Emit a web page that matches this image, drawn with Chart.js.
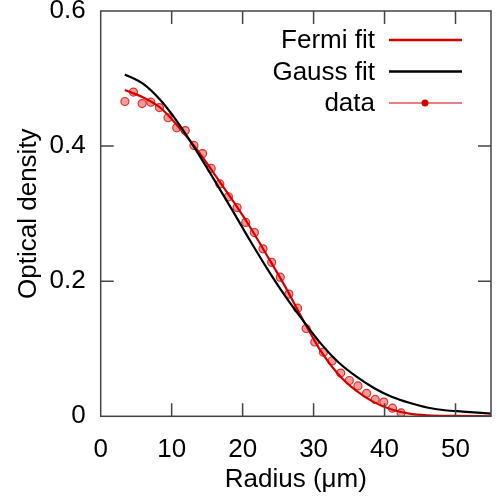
<!DOCTYPE html>
<html>
<head>
<meta charset="utf-8">
<script src="https://cdn.jsdelivr.net/npm/chart.js@4.4.1/dist/chart.umd.min.js"></script>
<style>
  html, body { margin: 0; padding: 0; background: #fff; }
  #wrap { width: 500px; height: 500px; }
</style>
</head>
<body>
<div id="wrap"><canvas id="od-chart" width="500" height="500"></canvas></div>
<script>
// measured profile (radius in um, optical density)
const dataRadius = [3.41, 4.62, 5.84, 7.06, 8.28, 9.49, 10.71, 11.92, 13.14, 14.36, 15.57,
  16.79, 18.00, 19.22, 20.44, 21.66, 22.87, 24.09, 25.30, 26.52, 27.74, 28.95, 30.17,
  31.39, 32.60, 33.82, 35.04, 36.25, 37.47, 38.68, 39.90, 41.12, 42.33]
const dataOD = [0.466, 0.480, 0.463, 0.465, 0.457, 0.442, 0.427, 0.423, 0.401, 0.389, 0.367,
  0.344, 0.325, 0.309, 0.287, 0.272, 0.248, 0.228, 0.206, 0.181, 0.160, 0.130, 0.110,
  0.095, 0.082, 0.064, 0.053, 0.045, 0.034, 0.025, 0.021, 0.012, 0.005]

// fit curves
const fermiRadius = [3.4, 6, 8.5, 11, 13.5, 16, 18.5, 21, 23.5, 26, 28.5, 31, 33.5, 36,
  38.5, 41, 43.5, 46, 50, 55]
const fermiOD = [0.483, 0.472, 0.456, 0.428, 0.396, 0.359, 0.321, 0.281, 0.237, 0.192, 0.143,
  0.097, 0.062, 0.038, 0.021, 0.010, 0.004, 0.0015, 0.0005, 0.0]

const gaussRadius = [3.4, 6, 8.5, 11, 13.5, 16, 18.5, 21, 23.5, 26, 28.5, 31, 33.5, 36,
  38.5, 41, 43.5, 46, 48.5, 51, 55]
const gaussOD = [0.506, 0.492, 0.467, 0.433, 0.393, 0.350, 0.306, 0.261, 0.218, 0.178, 0.142,
  0.108, 0.080, 0.059, 0.042, 0.029, 0.020, 0.013, 0.009, 0.007, 0.004]

const xTicks = [0, 10, 20, 30, 40, 50]
const yTicks = [0, 0.2, 0.4, 0.6]

const RED = '#d40000'
const FONT = "'Liberation Sans', Arial, sans-serif"
const FONT_SIZE = 26

const toPoints = (xs, ys) => xs.map((x, i) => ({ x, y: ys[i] }))

// frame, inward ticks and the legend
const framePlugin = {
  id: 'frame',
  afterDraw(chart) {
    const { ctx, chartArea: a, scales } = chart
    ctx.save()
    ctx.strokeStyle = '#444'
    ctx.lineWidth = 1.5
    ctx.strokeRect(a.left, a.top, a.right - a.left, a.bottom - a.top)
    ctx.beginPath()
    xTicks.slice(1).forEach(v => {
      const px = scales.x.getPixelForValue(v)
      ctx.moveTo(px, a.bottom); ctx.lineTo(px, a.bottom - 13)
      ctx.moveTo(px, a.top); ctx.lineTo(px, a.top + 13)
    })
    yTicks.slice(1, -1).forEach(v => {
      const py = scales.y.getPixelForValue(v)
      ctx.moveTo(a.left, py); ctx.lineTo(a.left + 13, py)
      ctx.moveTo(a.right, py); ctx.lineTo(a.right - 13, py)
    })
    ctx.stroke()

    const items = [
      { label: 'Fermi fit', color: RED, width: 2.5, dot: false },
      { label: 'Gauss fit', color: '#000', width: 2.5, dot: false },
      { label: 'data', color: RED, width: 1, dot: true }
    ]
    ctx.font = FONT_SIZE + 'px ' + FONT
    ctx.textAlign = 'right'
    ctx.textBaseline = 'middle'
    items.forEach((it, i) => {
      const y = a.top + 29 + i * 31.5
      ctx.fillStyle = '#000'
      ctx.fillText(it.label, a.right - 116, y + 1)
      ctx.strokeStyle = it.color
      ctx.lineWidth = it.width
      ctx.beginPath()
      ctx.moveTo(a.right - 102, y); ctx.lineTo(a.right - 29, y)
      ctx.stroke()
      if (it.dot) {
        ctx.fillStyle = it.color
        ctx.beginPath()
        ctx.arc(a.right - 66, y, 3.5, 0, Math.PI * 2)
        ctx.fill()
      }
    })
    ctx.restore()
  }
}

const ctx = document.getElementById('od-chart').getContext('2d')
new Chart(ctx, {
  type: 'scatter',
  data: {
    datasets: [
      {
        label: 'Gauss fit',
        data: toPoints(gaussRadius, gaussOD),
        showLine: true,
        borderColor: '#000',
        borderWidth: 2.2,
        pointRadius: 0,
        cubicInterpolationMode: 'monotone'
      },
      {
        label: 'Fermi fit',
        data: toPoints(fermiRadius, fermiOD),
        showLine: true,
        borderColor: RED,
        borderWidth: 2.2,
        pointRadius: 0,
        cubicInterpolationMode: 'monotone'
      },
      {
        label: 'data',
        data: toPoints(dataRadius, dataOD),
        showLine: false,
        pointRadius: 4,
        pointBorderWidth: 1.2,
        pointBorderColor: '#e03030',
        pointBackgroundColor: 'rgba(240,120,120,0.75)'
      }
    ]
  },
  options: {
    responsive: false,
    animation: false,
    layout: { padding: { top: 11, right: 9, left: 0, bottom: 0 } },
    plugins: { legend: { display: false }, tooltip: { enabled: false } },
    scales: {
      x: {
        type: 'linear',
        min: 0,
        max: 55,
        afterBuildTicks: axis => { axis.ticks = xTicks.map(v => ({ value: v })) },
        afterFit: axis => { axis.height = 83.7; axis.paddingLeft = 0; axis.paddingRight = 0 },
        grid: { display: false, drawTicks: false },
        border: { display: false },
        ticks: { color: '#000', padding: 18, font: { family: FONT, size: FONT_SIZE } },
        title: { display: true, text: 'Radius (μm)', color: '#000', padding: { top: 2, bottom: 5 }, font: { family: FONT, size: FONT_SIZE } }
      },
      y: {
        type: 'linear',
        min: 0,
        max: 0.6,
        afterBuildTicks: axis => { axis.ticks = yTicks.map(v => ({ value: v })) },
        afterFit: axis => { axis.width = 100.7; axis.paddingTop = 0; axis.paddingBottom = 0 },
        grid: { display: false, drawTicks: false },
        border: { display: false },
        ticks: { color: '#000', padding: 15, font: { family: FONT, size: FONT_SIZE } },
        title: { display: true, text: 'Optical density', color: '#000', padding: { top: 13, bottom: 4 }, font: { family: FONT, size: FONT_SIZE } }
      }
    }
  },
  plugins: [framePlugin]
})
</script>
</body>
</html>
